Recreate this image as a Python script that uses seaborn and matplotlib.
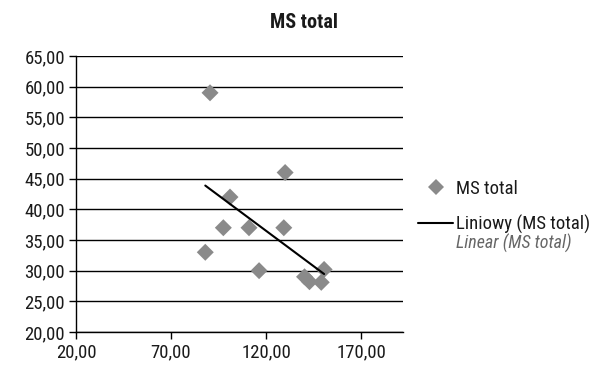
import matplotlib
matplotlib.use("Agg")
import matplotlib.pyplot as plt
import matplotlib.font_manager as fm
import seaborn as sns
import numpy as np
import pandas as pd
from matplotlib.lines import Line2D

x_vals = [90.5, 130, 101, 97.5, 111, 129.3, 88, 116.3, 140.2, 142.8, 149, 150.5]
y_vals = [59, 46, 42, 37, 37, 37, 33, 30, 29, 28.2, 28.1, 30.2]
x_ticks = [20, 70, 120, 170]
y_ticks = [20, 25, 30, 35, 40, 45, 50, 55, 60, 65]
title = "MS total"
series_label = "MS total"
trend_label = "Liniowy (MS total)"
trend_label_en = "Linear (MS total)"

df = pd.DataFrame({"x": x_vals, "y": y_vals})

sns.set_theme(style="white")
names = {f.name for f in fm.fontManager.ttflist}
fam = "DejaVu Sans"
for cand in ["Roboto Condensed", "Open Sans Condensed", "Liberation Sans Narrow", "Roboto"]:
    if cand in names:
        fam = cand
        break
plt.rcParams["font.family"] = [fam, "DejaVu Sans"]

fig = plt.figure(figsize=(6.04, 3.69), dpi=100)
ax = fig.add_axes([76/604, 1-332/369, (403-76)/604, (332-56)/369])

gray = "#8a8a8a"
sns.regplot(data=df, x="x", y="y", ax=ax, ci=None, marker="D",
            scatter_kws={"s": 75, "color": gray, "edgecolor": "none", "zorder": 3, "alpha": 1},
            line_kws={"color": "black", "lw": 1.5, "zorder": 4})

ax.set_xlim(20, 192)
ax.set_ylim(20, 65)
ax.set_xticks(x_ticks)
ax.set_yticks(y_ticks)
fs = 13.5
ax.set_xticklabels([f"{v:.2f}".replace(".", ",") for v in x_ticks], fontsize=fs)
ax.set_yticklabels([f"{v:.2f}".replace(".", ",") for v in y_ticks], fontsize=fs)
ax.set_xlabel("")
ax.set_ylabel("")
ax.yaxis.grid(True, color="black", lw=1)
ax.xaxis.grid(False)
ax.set_axisbelow(True)
for s in ["top", "right"]:
    ax.spines[s].set_visible(False)
ax.spines["left"].set_color("black")
ax.spines["bottom"].set_color("black")
ax.spines["left"].set_linewidth(1)
ax.spines["bottom"].set_linewidth(1)
ax.tick_params(axis="both", direction="out", length=5, width=1, color="black",
               left=True, bottom=True, labelcolor="#1a1a1a", pad=3)

fig.text(304/604, 1-23/369, title, fontsize=14.5, fontweight="bold",
         ha="center", va="center", color="#1a1a1a")

handles = [
    Line2D([], [], marker="D", color=gray, linestyle="none", markersize=8, markeredgewidth=0),
    Line2D([], [], color="black", lw=1.5),
]
leg = fig.legend(handles, [series_label, trend_label], loc="upper left",
                 bbox_to_anchor=(418/604, 1-180/369), frameon=False,
                 fontsize=fs, handlelength=1.87, handletextpad=0.16, labelspacing=0.9,
                 borderaxespad=0, borderpad=0.0)
for t in leg.get_texts():
    t.set_color("#1a1a1a")
fig.text(456/604, 1-243/369, trend_label_en, fontsize=13, fontstyle="italic",
         color="#666666", va="center", ha="left")

fig.savefig("out.png", dpi=100)
